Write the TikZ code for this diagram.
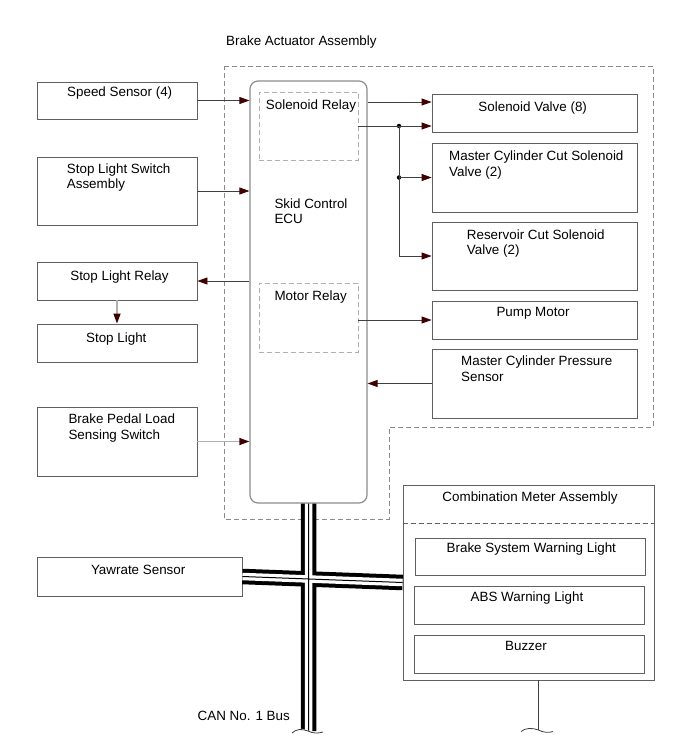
\documentclass[tikz,border=0pt]{standalone}
\usepackage{fontspec}
\setmainfont{Liberation Sans}
\usetikzlibrary{arrows.meta}
\definecolor{boxc}{HTML}{606060}
\definecolor{lgray}{HTML}{B0B0B0}
\definecolor{dgray}{HTML}{8C8C8C}
\definecolor{dashc}{HTML}{8A8A8A}
\definecolor{arrc}{HTML}{3F0000}
\definecolor{linec}{HTML}{404040}
\begin{document}
\begin{tikzpicture}[x=1pt,y=-1pt,
  bx/.style 2 args={draw=boxc,line width=0.8pt,rectangle,inner sep=0pt,minimum width=#1pt,minimum height=#2pt},
  relaybox/.style 2 args={draw=lgray,line width=0.9pt,dash pattern=on 5pt off 3pt,rectangle,inner sep=0pt,minimum width=#1pt,minimum height=#2pt},
  txt/.style={inner sep=0pt,font=\fontsize{13.4}{16}\selectfont},
  arr/.style={draw=linec,line width=0.8pt,-{Triangle[length=10pt,width=7pt,color=arrc]}},
  arrg/.style={arr,draw=lgray,line width=1.3pt},
  dot/.style={circle,fill=black,inner sep=0pt,minimum size=4.5pt},
  wire/.style={draw=linec,line width=0.8pt}]
\useasboundingbox (0,0) rectangle (690,756);

% Brake actuator assembly outline
\draw[dashc,line width=0.9pt,dash pattern=on 5pt off 3pt]
  (224,66) -- (653,66) -- (653,427) -- (389,427) -- (389,519) -- (224,519) -- cycle;
\node[txt,anchor=base west] (tba) at (226,45) {Brake Actuator Assembly};

% ECU
\node[draw=dgray,line width=1.2pt,rounded corners=8pt,minimum width=117pt,minimum height=422pt,inner sep=0pt] (ecu) at (308.5,292) {};
\node[relaybox={99}{68}] (srl) at (308.5,126) {};
\node[relaybox={99}{69}] (mrl) at (308.5,317.5) {};
\node[txt,anchor=base west] (tsrl) at (265.7,109.3) {Solenoid Relay};
\node[txt,anchor=base west] (tecu1) at (274.3,208) {Skid Control};
\node[txt,anchor=base west] (tecu2) at (274.3,223.7) {ECU};
\node[txt,anchor=base west] (tmrl) at (274.3,300) {Motor Relay};

% left boxes
\node[bx={160}{37}] (ss) at (117,100.5) {};
\node[txt,anchor=base] (tss) at (119.7,96.7) {Speed Sensor (4)};
\node[bx={160}{68}] (sls) at (117,191) {};
\node[txt,anchor=base west] (tsls1) at (66.7,173.3) {Stop Light Switch};
\node[txt,anchor=base west] (tsls2) at (66.7,188.8) {Assembly};
\node[bx={160}{38}] (slr) at (117,281) {};
\node[txt,anchor=base] (tslr) at (119.5,280.7) {Stop Light Relay};
\node[bx={160}{38}] (sl) at (117,343) {};
\node[txt,anchor=base] (tsl) at (116.3,342.3) {Stop Light};
\node[bx={160}{69}] (bp) at (117,441.5) {};
\node[txt,anchor=base west] (tbp1) at (68.3,423.3) {Brake Pedal Load};
\node[txt,anchor=base west] (tbp2) at (68.3,439.3) {Sensing Switch};
\node[bx={205}{39}] (yaw) at (139.5,576.5) {};
\node[txt,anchor=base] (tyaw) at (138.2,574) {Yawrate Sensor};

% right boxes
\node[bx={205}{38}] (sv) at (534.5,113) {};
\node[txt,anchor=base] (tsv) at (532.7,111.7) {Solenoid Valve (8)};
\node[bx={205}{69}] (mcc) at (534.5,177.5) {};
\node[txt,anchor=base west] (tmcc1) at (449,160) {Master Cylinder Cut Solenoid};
\node[txt,anchor=base west] (tmcc2) at (449,176) {Valve (2)};
\node[bx={205}{68}] (rc) at (534.5,256) {};
\node[txt,anchor=base west] (trc1) at (466.7,239) {Reservoir Cut Solenoid};
\node[txt,anchor=base west] (trc2) at (466.7,254.7) {Valve (2)};
\node[bx={205}{38}] (pm) at (534.5,320) {};
\node[txt,anchor=base] (tpm) at (533,316.7) {Pump Motor};
\node[bx={205}{69}] (mcp) at (534.5,383.5) {};
\node[txt,anchor=base west] (tmcp1) at (461,365.7) {Master Cylinder Pressure};
\node[txt,anchor=base west] (tmcp2) at (461,381.7) {Sensor};

% combination meter
\node[bx={251}{195}] (cm) at (528.5,582.5) {};
\draw[boxc,line width=0.8pt,dash pattern=on 5pt off 3pt] (cm.west |- 0,523) -- (cm.east |- 0,523);
\node[txt,anchor=base] (tcm) at (530,501) {Combination Meter Assembly};
\node[bx={230}{37}] (bsw) at (530,556.5) {};
\node[txt,anchor=base] (tbsw) at (531.3,552.7) {Brake System Warning Light};
\node[bx={230}{38}] (abs) at (529,605) {};
\node[txt,anchor=base] (tabs) at (527,601.7) {ABS Warning Light};
\node[bx={230}{38}] (bz) at (529,654) {};
\node[txt,anchor=base] (tbz) at (526,650.3) {Buzzer};

% connectors left
\draw[arr] (ss.east) -- (ss.east -| ecu.west);
\draw[arr] (sls.east) -- (sls.east -| ecu.west);
\draw[arr] (slr.east -| ecu.west) -- (slr.east);
\draw[arrg] (slr.south) -- (sl.north);
\draw[arrg] (bp.east) -- (bp.east -| ecu.west);

% connectors right
\coordinate (r1) at (0,102);
\draw[arr] (ecu.east |- r1) -- (sv.west |- r1);
\coordinate (r2) at (0,126);
\node[dot] (j1) at (399,126) {};
\node[dot] (j2) at (399,177.5) {};
\draw[arr] (srl.east |- r2) -- (sv.west |- r2);
\draw[wire] (j1.center) -- (j2.center);
\draw[arr] (j2.center) -- (mcc.west);
\draw[arr] (j2.center) |- (rc.west);
\draw[arr] (mrl.east |- pm.west) -- (pm.west);
\draw[arr] (mcp.west) -- (mcp.west -| ecu.east);

% CAN bus
\coordinate (busend) at (308.5,731);
\draw[black,line width=15.5pt] (ecu.south) -- (busend) (yaw.east) -- (cm.west);
\draw[white,line width=7.5pt] (ecu.south) -- (busend) (yaw.east) -- (cm.west);
\draw[black,line width=1pt] (ecu.south) -- (busend) (yaw.east) -- (cm.west);
\draw[fill=white,draw=none] (290,731.5) .. controls (296,728) and (302,728) .. (308,730.5) .. controls (313,733) and (318,733.5) .. (325,732) -- (325,740) -- (290,740) -- cycle;
\draw[linec,line width=0.8pt] (292,733) .. controls (296,729) and (302,728.5) .. (308,731) .. controls (313,733.5) and (318,733.5) .. (323,732);
\node[txt,anchor=base east] (tcan) at (290,720.7) {CAN No. 1 Bus};

% combination meter tail
\coordinate (cmtail) at (538.5,730);
\draw[wire] (cm.south -| cmtail) -- (cmtail);
\draw[linec,line width=0.8pt] (521,731.5) .. controls (525,728) and (532,727.5) .. (538.5,730) .. controls (543,732.5) and (549,733) .. (553,731.5);
\end{tikzpicture}
\end{document}
